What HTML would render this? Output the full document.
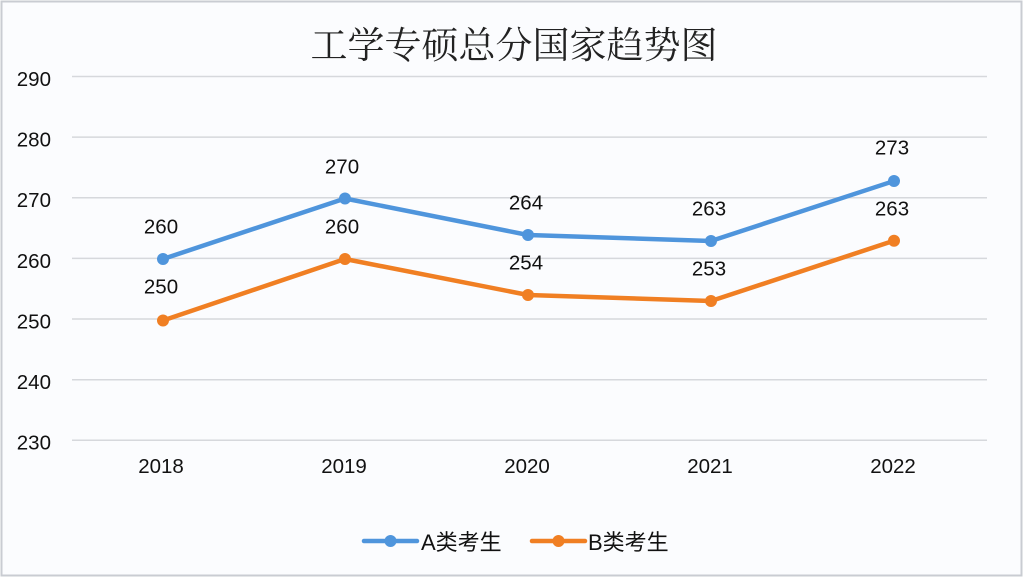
<!DOCTYPE html>
<html>
<head>
<meta charset="utf-8">
<style>
  html,body{margin:0;padding:0;background:#fff;}
  svg{display:block;}
</style>
</head>
<body>
<svg width="1026" height="578" viewBox="0 0 1026 578" xmlns="http://www.w3.org/2000/svg">
  <rect x="0" y="0" width="1026" height="578" fill="#ffffff"/>
  <rect x="1.5" y="1.5" width="1020" height="574" fill="#fbfcfe" stroke="#c9ccd2" stroke-width="2"/>
  <!-- title -->
  <text x="514" y="58" text-anchor="middle" font-family="'Liberation Serif','Noto Serif CJK SC',serif" font-size="37" fill="#222">工学专硕总分国家趋势图</text>
  <!-- grid -->
  <g stroke="#d6d8dc" stroke-width="1.5">
    <line x1="72" y1="76.5" x2="987" y2="76.5"/>
    <line x1="72" y1="137.1" x2="987" y2="137.1"/>
    <line x1="72" y1="197.8" x2="987" y2="197.8"/>
    <line x1="72" y1="258.4" x2="987" y2="258.4"/>
    <line x1="72" y1="319.0" x2="987" y2="319.0"/>
    <line x1="72" y1="379.7" x2="987" y2="379.7"/>
    <line x1="72" y1="440.3" x2="987" y2="440.3"/>
  </g>
  <!-- y labels -->
  <g font-family="'Liberation Sans',sans-serif" font-size="20.5" fill="#111" text-anchor="end">
    <text x="51" y="86">290</text>
    <text x="51" y="146.5">280</text>
    <text x="51" y="207">270</text>
    <text x="51" y="268">260</text>
    <text x="51" y="328.5">250</text>
    <text x="51" y="389">240</text>
    <text x="51" y="449.5">230</text>
  </g>
  <!-- x labels -->
  <g font-family="'Liberation Sans',sans-serif" font-size="20.5" fill="#111" text-anchor="middle">
    <text x="161" y="473">2018</text>
    <text x="344" y="473">2019</text>
    <text x="527" y="473">2020</text>
    <text x="710" y="473">2021</text>
    <text x="893" y="473">2022</text>
  </g>
  <!-- series A -->
  <polyline points="163,259 345,198.5 528,235 711,241 894,181" fill="none" stroke="#4f95dc" stroke-width="4.5" stroke-linejoin="round"/>
  <g fill="#4f95dc">
    <circle cx="163" cy="259" r="6"/>
    <circle cx="345" cy="198.5" r="6"/>
    <circle cx="528" cy="235" r="6"/>
    <circle cx="711" cy="241" r="6"/>
    <circle cx="894" cy="181" r="6"/>
  </g>
  <!-- series B -->
  <polyline points="163,320.5 345,259 528,295 711,301 894,240.7" fill="none" stroke="#f07f23" stroke-width="4.5" stroke-linejoin="round"/>
  <g fill="#f07f23">
    <circle cx="163" cy="320.5" r="6"/>
    <circle cx="345" cy="259" r="6"/>
    <circle cx="528" cy="295" r="6"/>
    <circle cx="711" cy="301" r="6"/>
    <circle cx="894" cy="240.7" r="6"/>
  </g>
  <!-- data labels -->
  <g font-family="'Liberation Sans',sans-serif" font-size="20.5" fill="#111" text-anchor="middle">
    <text x="161" y="233.5">260</text>
    <text x="342" y="173.5">270</text>
    <text x="526" y="209.5">264</text>
    <text x="709" y="215.5">263</text>
    <text x="892" y="154.5">273</text>
    <text x="161" y="293.5">250</text>
    <text x="342" y="233.5">260</text>
    <text x="526" y="269.5">254</text>
    <text x="709" y="275.5">253</text>
    <text x="892" y="215.5">263</text>
  </g>
  <!-- legend -->
  <line x1="364" y1="541" x2="417" y2="541" stroke="#4f95dc" stroke-width="4.5" stroke-linecap="round"/>
  <circle cx="390.5" cy="541" r="6" fill="#4f95dc"/>
  <text x="421" y="550" font-family="'Liberation Sans','Noto Sans CJK SC',sans-serif" font-size="22" fill="#111">A类考生</text>
  <line x1="532" y1="541" x2="585" y2="541" stroke="#f07f23" stroke-width="4.5" stroke-linecap="round"/>
  <circle cx="558.5" cy="541" r="6" fill="#f07f23"/>
  <text x="588" y="550" font-family="'Liberation Sans','Noto Sans CJK SC',sans-serif" font-size="22" fill="#111">B类考生</text>
</svg>
</body>
</html>
